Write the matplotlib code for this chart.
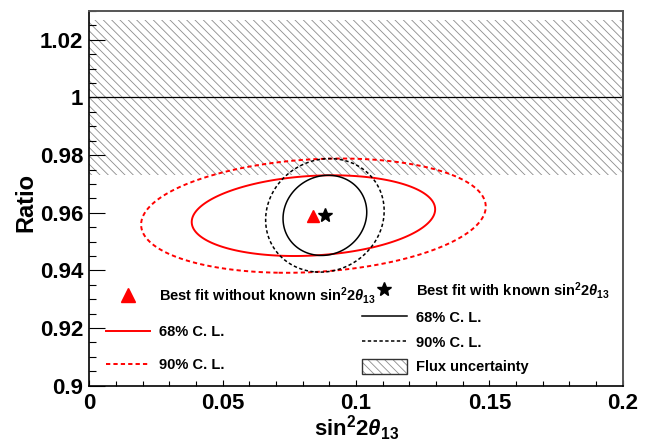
import numpy as np
import matplotlib
matplotlib.use("Agg")
import matplotlib.pyplot as plt
from matplotlib.lines import Line2D
from matplotlib.patches import Patch
from matplotlib.legend_handler import HandlerTuple
from matplotlib.ticker import MultipleLocator, FuncFormatter

plt.rcParams['font.family'] = ['Liberation Sans', 'DejaVu Sans']
plt.rcParams['font.weight'] = 'bold'
plt.rcParams['mathtext.fontset'] = 'custom'
plt.rcParams['mathtext.rm'] = 'Liberation Sans:bold'
plt.rcParams['mathtext.bf'] = 'Liberation Sans:bold'
plt.rcParams['mathtext.it'] = 'Liberation Sans:bold:italic'
plt.rcParams['hatch.linewidth'] = 0.6

# Fit results: best-fit point, 1-sigma widths and correlation of (sin^2 2theta13, ratio)
fit_free = {"x": 0.0840, "y": 0.9590, "sx": 0.0301, "sy": 0.00923, "rho": 0.157}
fit_known = {"x": 0.0883, "y": 0.9591, "sx": 0.01035, "sy": 0.00917, "rho": 0.08}
# Delta chi^2 levels for 2 parameters: 68% and 90% C.L.
cl_levels = [2.30, 4.61]
# Reactor flux normalisation and its uncertainty
flux_norm = 1.0
flux_unc = 0.027

x_ticks = [0, 0.05, 0.1, 0.15, 0.2]
y_ticks = [0.9, 0.92, 0.94, 0.96, 0.98, 1.0, 1.02]
x_range = (0.0, 0.2)
y_range = (0.9, 1.03)

label_x = r"sin$^{2}$2$\theta_{13}$"
label_y = "Ratio"
leg_free = [r"Best fit without known sin$^{2}$2$\theta_{13}$", "68% C. L.", "90% C. L."]
leg_known = [r"Best fit with known sin$^{2}$2$\theta_{13}$", "68% C. L.", "90% C. L.",
             "Flux uncertainty"]

HATCH = '\\\\\\\\'
HATCH_COLOR = '#8c8c8c'


def delta_chi2(fit, X, Y):
    u = (X - fit["x"]) / fit["sx"]
    v = (Y - fit["y"]) / fit["sy"]
    r = fit["rho"]
    return (u * u - 2 * r * u * v + v * v) / (1 - r * r)


fig = plt.figure(figsize=(6.55, 4.43), dpi=100)
ax = fig.add_axes([0.1366, 0.1293, 0.8141, 0.8459])

# flux uncertainty band and nominal ratio
ax.axhspan(flux_norm - flux_unc, flux_norm + flux_unc, facecolor='none',
           edgecolor=HATCH_COLOR, hatch=HATCH, linewidth=0, zorder=1)
ax.axhline(flux_norm, color='black', lw=0.9, zorder=2)

gx = np.linspace(x_range[0], x_range[1], 800)
gy = np.linspace(y_range[0], y_range[1], 800)
GX, GY = np.meshgrid(gx, gy)

dash = (0, (2.2, 1.6))
ax.contour(GX, GY, delta_chi2(fit_free, GX, GY), levels=cl_levels,
           colors='#ff0000', linestyles=['solid', dash], linewidths=1.4, zorder=3)
ax.contour(GX, GY, delta_chi2(fit_known, GX, GY), levels=cl_levels,
           colors='black', linestyles=['solid', dash], linewidths=1.1, zorder=3)

ax.plot([fit_free["x"]], [fit_free["y"]], marker='^', color='#ff0000', ms=8.5,
        ls='none', zorder=4)
ax.plot([fit_known["x"]], [fit_known["y"]], marker='*', color='black', ms=10,
        ls='none', zorder=4)

ax.set_xlim(*x_range)
ax.set_ylim(*y_range)
ax.set_xticks(x_ticks)
ax.set_yticks(y_ticks)
ax.xaxis.set_minor_locator(MultipleLocator(0.01))
ax.yaxis.set_minor_locator(MultipleLocator(0.005))
fmt = FuncFormatter(lambda v, p: "%g" % round(v, 4))
ax.xaxis.set_major_formatter(fmt)
ax.yaxis.set_major_formatter(fmt)
ax.tick_params(which='both', direction='in', top=False, right=False, width=0.8,
               labelsize=16)
ax.tick_params(axis='y', which='major', length=11.5, pad=4.5)
ax.tick_params(axis='y', which='minor', length=5)
ax.tick_params(axis='x', which='major', length=4.5, pad=5)
ax.tick_params(axis='x', which='minor', length=3.5)

for side in ('left', 'bottom'):
    ax.spines[side].set_linewidth(1.2)
    ax.spines[side].set_color('black')
for side in ('top', 'right'):
    ax.spines[side].set_linewidth(1.4)
    ax.spines[side].set_color('#555555')

ax.set_xlabel(label_x, fontsize=16, fontweight='bold')
ax.set_ylabel(label_y, fontsize=17, fontweight='bold')
ax.xaxis.set_label_coords(0.5, -0.075)
ax.yaxis.set_label_coords(-0.097, 0.488)

red_h = [Line2D([], [], marker='^', color='#ff0000', ms=10, ls='none'),
         Line2D([], [], color='#ff0000', lw=1.4),
         Line2D([], [], color='#ff0000', lw=1.4, ls=dash)]
leg1 = ax.legend(red_h, leg_free, loc='upper left', bbox_to_anchor=(0.031, 0.27),
                 frameon=False, fontsize=10.5, handlelength=3.0, handletextpad=0.65,
                 labelspacing=1.32, borderpad=0, borderaxespad=0)
ax.add_artist(leg1)

flux_h = (Patch(facecolor='white', edgecolor=HATCH_COLOR, hatch=HATCH, lw=0),
          Patch(facecolor='none', edgecolor='#333333', lw=1.0))
blk_h = [Line2D([], [], marker='*', color='black', ms=10.5, ls='none'),
         Line2D([], [], color='black', lw=1.1),
         Line2D([], [], color='black', lw=1.1, ls=dash),
         flux_h]
leg2 = ax.legend(blk_h, leg_known, loc='upper left', bbox_to_anchor=(0.5105, 0.282),
                 frameon=False, fontsize=10.5, handlelength=3.1, handletextpad=0.65,
                 handleheight=1.2, labelspacing=0.62, borderpad=0, borderaxespad=0,
                 handler_map={tuple: HandlerTuple(ndivide=1, pad=0)})
for t in list(leg1.get_texts()) + list(leg2.get_texts()):
    t.set_fontweight('bold')

fig.savefig("out.png", dpi=100)
